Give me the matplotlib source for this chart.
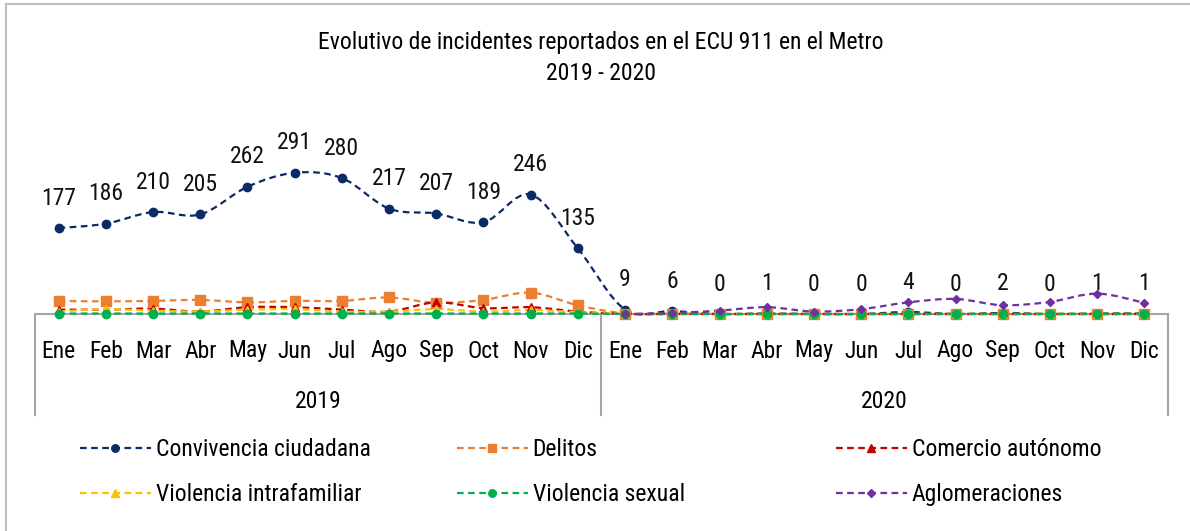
import numpy as np
import matplotlib
matplotlib.use("Agg")
import matplotlib.pyplot as plt
from matplotlib.path import Path
from matplotlib.patches import PathPatch, Rectangle
from matplotlib.lines import Line2D

plt.rcParams['font.family'] = ['Roboto Condensed', 'Liberation Sans Narrow', 'Roboto', 'DejaVu Sans']
plt.rcParams['font.stretch'] = 'condensed'

# datos
meses = ["Ene", "Feb", "Mar", "Abr", "May", "Jun", "Jul", "Ago", "Sep", "Oct", "Nov", "Dic"]
anios = ["2019", "2020"]
convivencia = [177, 186, 210, 205, 262, 291, 280, 217, 207, 189, 246, 135,
               9, 6, 0, 1, 0, 0, 4, 0, 2, 0, 1, 1]
delitos = [27, 26, 27, 29, 24, 27, 27, 34, 23, 29, 44, 18,
           1, 1, 0, 0, 0, 0, 0, 0, 0, 0, 0, 0]
comercio = [9, 9, 11, 5, 14, 14, 9, 5, 24, 12, 14, 5,
            0, 0, 0, 0, 0, 0, 0, 0, 0, 0, 0, 0]
intrafamiliar = [5, 10, 7, 5, 9, 10, 5, 5, 10, 5, 8, 4,
                 0, 0, 0, 0, 0, 0, 0, 0, 0, 0, 0, 0]
sexual = [1, 1, 1, 1, 1, 1, 1, 1, 1, 1, 1, 1,
          0, 0, 0, 0, 0, 0, 0, 0, 0, 0, 0, 0]
aglomeraciones = [np.nan] * 12 + [0, 2, 7, 14, 5, 10, 24, 31, 18, 25, 42, 23]

series = [
    ("Convivencia ciudadana", convivencia, "#0b2a66", "o", 6),
    ("Delitos", delitos, "#ED7D31", "s", 6.5),
    ("Comercio autónomo", comercio, "#C00000", "^", 6),
    ("Violencia intrafamiliar", intrafamiliar, "#FFC000", "^", 6),
    ("Violencia sexual", sexual, "#00B050", "o", 6),
    ("Aglomeraciones", aglomeraciones, "#7030A0", "D", 4.5),
]


def curva(x, y):
    # linea suavizada tipo Excel (bezier)
    verts = [(x[0], y[0])]
    codes = [Path.MOVETO]
    n = len(x)
    for i in range(n - 1):
        p0 = np.array([x[max(i - 1, 0)], y[max(i - 1, 0)]])
        p1 = np.array([x[i], y[i]])
        p2 = np.array([x[i + 1], y[i + 1]])
        p3 = np.array([x[min(i + 2, n - 1)], y[min(i + 2, n - 1)]])
        c1 = p1 + (p2 - p0) / 6.0
        c2 = p2 - (p3 - p1) / 6.0
        verts += [tuple(c1), tuple(c2), tuple(p2)]
        codes += [Path.CURVE4] * 3
    return Path(verts, codes)


W, H = 1190, 531
fig = plt.figure(figsize=(W / 100, H / 100), dpi=100)
ax = fig.add_axes([35 / W, 1 - 314 / H, (1168 - 35) / W, 170 / H])
ax.set_xlim(-0.5, 23.5)
ax.set_ylim(0, 170 / 0.4855)
ax.axis("off")

fs = 17
handles = []
for nombre, vals, color, mk, ms in series:
    v = np.array(vals, dtype=float)
    xs = np.arange(len(v))
    ok = ~np.isnan(v)
    path = curva(xs[ok], v[ok])
    ax.add_patch(PathPatch(path, fill=False, edgecolor=color, lw=1.6,
                           linestyle=(0, (3, 2)), clip_on=False))
    ax.plot(xs[ok], v[ok], linestyle="none", marker=mk, color=color, ms=ms, clip_on=False)
    handles.append(Line2D([], [], color=color, lw=1.6, linestyle=(0, (3, 2)),
                          marker=mk, ms=ms * 0.9))

# etiquetas de datos
for i, v in enumerate(convivencia):
    ax.annotate(str(v), (i, v), xytext=(0, 21.5), textcoords="offset points",
                ha="center", va="center", fontsize=fs, color="#111111")

# eje de categorias
gris = "#a6a6a6"
ax.plot([-0.5, 23.5], [0, 0], color=gris, lw=1.5, clip_on=False, zorder=0)
for xv in [-0.5, 11.5, 23.5]:
    ax.plot([xv, xv], [0, -101 / 0.4855], color=gris, lw=1.5, clip_on=False, zorder=0)
for i in range(24):
    ax.text(i, -37 / 0.4855, meses[i % 12], ha="center", va="center", fontsize=fs)
for k, a in enumerate(anios):
    ax.text(5.5 + 12 * k, -87 / 0.4855, a, ha="center", va="center", fontsize=fs)

fig.text(0.5 + 6 / W, 1 - 42 / H, "Evolutivo de incidentes reportados en el ECU 911 en el Metro",
         ha="center", va="center", fontsize=fs)
fig.text(0.5 + 6 / W, 1 - 73 / H, "2019 - 2020", ha="center", va="center", fontsize=fs)

# leyenda en tres columnas
col_x = [80, 457, 836]
for c in range(3):
    idx = [c, c + 3]
    fig.legend([handles[j] for j in idx], [series[j][0] for j in idx],
               loc="upper left", bbox_to_anchor=(col_x[c] / W, 1 - 438 / H),
               frameon=False, fontsize=fs, handlelength=3.0, handletextpad=0.2,
               borderpad=0, borderaxespad=0, labelspacing=0.95, numpoints=1)

fig.patches.append(Rectangle((6 / W, -0.1), 1.2, 1 - 4 / H + 0.1, transform=fig.transFigure,
                             fill=False, edgecolor="#bfbfbf", lw=1.5))

fig.savefig("out.png", dpi=100)
